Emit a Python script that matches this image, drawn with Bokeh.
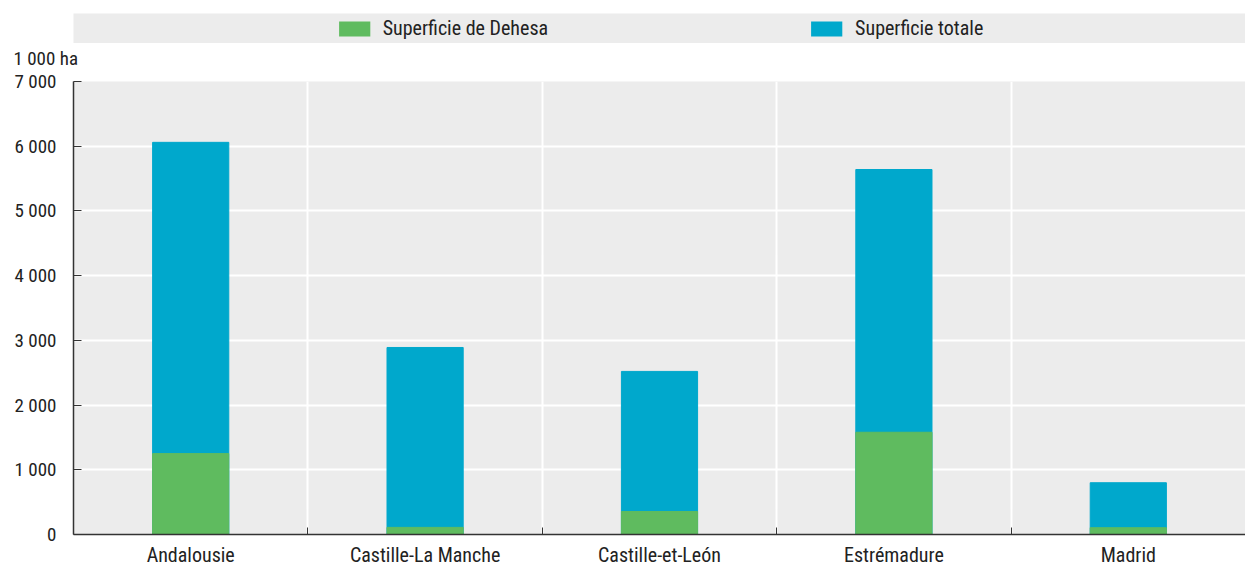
from bokeh.plotting import figure
from bokeh.models import FixedTicker, Legend, LegendItem, Range1d, ColumnDataSource
from bokeh.layouts import column
from bokeh.embed import file_html
from bokeh.resources import INLINE

regions = ["Andalousie", "Castille-La Manche", "Castille-et-León", "Estrémadure", "Madrid"]
dehesa = [1250, 110, 355, 1580, 105]
totale = [6060, 2890, 2520, 5640, 800]
series_names = ["Superficie de Dehesa", "Superficie totale"]
y_ticks = [0, 1000, 2000, 3000, 4000, 5000, 6000, 7000]
y_tick_labels = ["0", "1 000", "2 000", "3 000", "4 000", "5 000", "6 000", "7 000"]
unit_label = "1 000 ha"

GREEN = "#5FBB5F"
BLUE = "#00A8CC"
BG = "#ECECEC"
TXT = "#222222"
FONT = "'Liberation Sans Narrow', 'Roboto Condensed', 'Arial Narrow', Roboto, sans-serif"
FS = "20px"
FS_Y = "19px"

n = len(regions)
xs = [i + 0.5 for i in range(n)]
bounds = list(range(1, n))
src = ColumnDataSource(dict(x=xs, dehesa=dehesa, totale=totale))

# ---- legend band ----
pl = figure(frame_width=1172, frame_height=30, min_border_left=73, min_border_right=0,
            min_border_top=13, min_border_bottom=0, x_range=Range1d(0, n), y_range=Range1d(0, 1),
            x_axis_location=None, y_axis_location=None,
            toolbar_location=None, output_backend="svg")
pl.grid.visible = False
pl.outline_line_color = None
pl.background_fill_color = BG
r1 = pl.vbar(x="x", top="dehesa", width=0.3, fill_color=GREEN, line_color=None, source=src)
r2 = pl.vbar(x="x", top="totale", width=0.3, fill_color=BLUE, line_color=None, source=src)
r1.visible = False
r2.visible = False
leg = Legend(items=[LegendItem(label=series_names[0], renderers=[r1]),
                    LegendItem(label=series_names[1], renderers=[r2])],
             orientation="horizontal", location="center",
             glyph_width=39, glyph_height=19, label_height=19, label_standoff=9,
             spacing=259, padding=0, margin=0,
             background_fill_alpha=0, border_line_color=None,
             inactive_fill_alpha=0,
             label_text_font=FONT, label_text_font_size=FS, label_text_color=TXT)
pl.add_layout(leg, "center")

# ---- main chart ----
p = figure(frame_width=1172, frame_height=453, x_range=Range1d(0, n), y_range=Range1d(y_ticks[0], y_ticks[-1]),
           min_border_left=73, min_border_right=0, min_border_top=38, min_border_bottom=0,
           toolbar_location=None, output_backend="svg")
p.vbar(x="x", top="totale", width=0.325, color=BLUE, source=src)
p.vbar(x="x", top="dehesa", width=0.325, color=GREEN, source=src)

p.background_fill_color = BG
p.outline_line_color = None

p.title.text = unit_label
p.title.align = "left"
p.title.offset = -60
p.title.text_font = FONT
p.title.text_font_size = FS_Y
p.title.text_font_style = "normal"
p.title.text_color = TXT
p.title.standoff = 3
p.title.padding = dict(left=0, right=0, top=0, bottom=10)

p.xaxis.ticker = FixedTicker(ticks=xs, minor_ticks=bounds)
p.xaxis.major_label_overrides = {x: r for x, r in zip(xs, regions)}
p.xaxis.minor_tick_in = 7
p.xaxis.minor_tick_out = 0
p.xaxis.minor_tick_line_color = "#333333"
p.xaxis.major_label_standoff = 2
p.xaxis.major_label_text_font_size = FS

p.yaxis.ticker = FixedTicker(ticks=y_ticks, minor_ticks=[])
p.yaxis.major_label_overrides = {t: l for t, l in zip(y_ticks, y_tick_labels)}
p.yaxis.major_tick_in = 8
p.yaxis.major_tick_out = 0
p.yaxis.minor_tick_line_color = None
p.yaxis.major_label_standoff = 17
p.yaxis.major_label_text_font_size = FS_Y

for ax in (p.xaxis, p.yaxis):
    ax.axis_line_color = "#333333"
    ax.axis_line_width = 1.5
    ax.major_label_text_font = FONT
    ax.major_label_text_color = TXT
p.xaxis.major_tick_line_color = None
p.yaxis.major_tick_line_color = "#333333"

p.xgrid.ticker = FixedTicker(ticks=bounds)
p.grid.grid_line_color = "white"
p.grid.grid_line_width = 2

layout = column(pl, p)
open("out.html", "w").write(file_html(layout, INLINE))
